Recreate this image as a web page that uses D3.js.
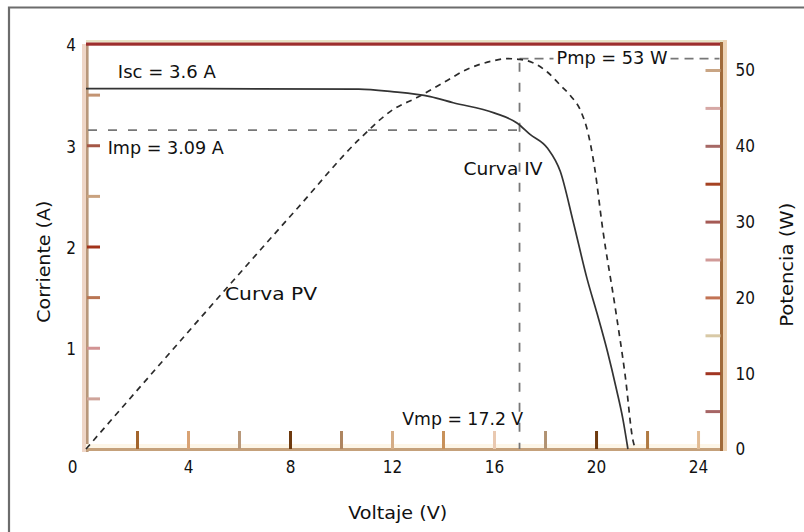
<!DOCTYPE html>
<html><head><meta charset="utf-8">
<script src="https://cdn.jsdelivr.net/npm/d3@7"></script>
<style>
html,body{margin:0;padding:0;background:#fff;}
svg{display:block;}
text{font-family:"DejaVu Sans Condensed","Liberation Sans Narrow","Arial Narrow","Liberation Sans",Arial,sans-serif;font-stretch:condensed;fill:#111;}
</style></head><body>
<svg id="chart" width="804" height="532"></svg>
<script>
// ---------- data ----------
const voltageLabels=[0,4,8,12,16,20,24];
const voltageMinorTicks=[2,4,6,8,10,12,14,16,18,20,22,24];
const currentLabels=[1,2,3,4];
const currentMinorTicks=[0.5,1,1.5,2,2.5,3,3.5];
const powerLabels=[0,10,20,30,40,50];
const powerMinorTicks=[5,10,15,20,25,30,35,40,45,50];

const ivVoltage=[0,10.7,12.0,13.5,14.4,16.0,16.9,17.4,18.1,18.6,19.1,19.65,20.05,20.45,20.8,21.05,21.25];
const ivCurrent=[3.56,3.555,3.53,3.48,3.42,3.32,3.22,3.11,2.97,2.74,2.25,1.68,1.33,0.96,0.59,0.30,0];

const pvVoltage=[0,8.3,10.7,12.05,13.0,14.0,14.95,15.95,16.5,17.0,17.5,18.1,18.6,19.0,19.4,19.7,19.95,20.25,20.75,21.15,21.45,21.55];
const pvPower=[0,31.8,40.8,44.8,46.4,48.3,50.1,51.2,51.5,51.4,51.0,49.7,48.0,46.6,44.6,41.5,37.0,29.3,18.7,9.5,1.1,0];

const impLineCurrent=3.15;   // dashed Imp line as drawn
const vmpLineVoltage=17.0;   // dashed Vmp line as drawn
const pmpLinePower=51.5;     // dashed Pmp line as drawn

const annotationTexts=["Isc = 3.6 A","Imp = 3.09 A","Pmp = 53 W","Curva IV","Curva PV","Vmp = 17.2 V"];
const xTitle="Voltaje (V)", yLeftTitle="Corriente (A)", yRightTitle="Potencia (W)";

// ---------- layout ----------
const svg=d3.select("#chart");
const x=d3.scaleLinear().domain([0,24.92]).range([86,721.5]);
const yI=d3.scaleLinear().domain([0,4]).range([449,44]);
const yP=d3.scaleLinear().domain([0,53.43]).range([449,44]);

// outer frame
svg.append("path").attr("d","M9,532V7.5H804").attr("fill","none").attr("stroke","#6c6c6c").attr("stroke-width",2.2);

// plot border (scan-like coloured edges)
const x0=x(0), x1=x.range()[1], yb=yI(0), yt=yI(4);
svg.append("rect").attr("x",x0-4).attr("y",yt).attr("width",4).attr("height",yb-yt+3).attr("fill","#efd6c7");
svg.append("rect").attr("x",x0).attr("y",yt).attr("width",2.6).attr("height",yb-yt+3).attr("fill","#b8977a");
svg.append("rect").attr("x",x0).attr("y",yb-5).attr("width",x1-x0).attr("height",4).attr("fill","#fdf6e8");
svg.append("rect").attr("x",x0).attr("y",yb-1).attr("width",x1-x0+1).attr("height",3).attr("fill","#c5a17b");
svg.append("rect").attr("x",x0).attr("y",yt-4).attr("width",x1-x0+4).attr("height",2.6).attr("fill","#e7e3c6");
svg.append("rect").attr("x",x0).attr("y",yt-1.5).attr("width",x1-x0).attr("height",3.2).attr("fill","#9d2f2e");
svg.append("rect").attr("x",x1-1.5).attr("y",yt-2).attr("width",3).attr("height",yb-yt+4).attr("fill","#a06a3a");
svg.append("rect").attr("x",x1+1.5).attr("y",yt-4).attr("width",4).attr("height",yb-yt+6).attr("fill","#edd3b5");

// tick colours (scan artefacts)
const bottomTickColors=["#a3652c","#d9a273","#b8987a","#6e3a0e","#ae8560","#d5ad86","#c8915a","#e9c9b1","#b19272","#6e3a0e","#b07a42","#e2bc94"];
const leftTickColors=["#cfa49a","#d29393","#b97553","#a2331a","#c9a27f","#a45746","#c39473"];
const rightTickColors=["#a66565","#a13522","#d8c9a6","#c27354","#d19a98","#a55a55","#a54222","#a66865","#d6a8a5","#c9a584"];

// bottom minor ticks
const gb=svg.append("g").attr("transform",`translate(0,${yb})`)
  .call(d3.axisBottom(x).tickValues(voltageMinorTicks).tickSize(-18).tickFormat(""));
gb.select(".domain").remove();
gb.selectAll(".tick line").attr("stroke",(d,i)=>bottomTickColors[i%bottomTickColors.length]).attr("stroke-width",3);

// bottom labels
const gbl=svg.append("g").attr("transform",`translate(0,${yb})`)
  .call(d3.axisBottom(x).tickValues(voltageLabels).tickSize(0).tickPadding(12).tickFormat(d3.format("d")));
gbl.select(".domain").remove();
gbl.selectAll("text").attr("font-size",17).attr("fill","#111").attr("font-family",null)
  .attr("dx",d=>d===0?-14:0);

// left ticks (inward)
const gl=svg.append("g").attr("transform",`translate(${x0+1},0)`)
  .call(d3.axisRight(yI).tickValues(currentMinorTicks).tickSize(13).tickFormat(""));
gl.select(".domain").remove();
gl.selectAll(".tick line").attr("stroke",(d,i)=>leftTickColors[i%leftTickColors.length]).attr("stroke-width",3);
const gll=svg.append("g").attr("transform",`translate(${x0},0)`)
  .call(d3.axisLeft(yI).tickValues(currentLabels).tickSize(0).tickPadding(10).tickFormat(d3.format("d")));
gll.select(".domain").remove();
gll.selectAll("text").attr("font-size",17).attr("fill","#111").attr("font-family",null).attr("dy","0.4em");

// right ticks (inward)
const gr=svg.append("g").attr("transform",`translate(${x1-1},0)`)
  .call(d3.axisLeft(yP).tickValues(powerMinorTicks).tickSize(15).tickFormat(""));
gr.select(".domain").remove();
gr.selectAll(".tick line").attr("stroke",(d,i)=>rightTickColors[i%rightTickColors.length]).attr("stroke-width",3);
const grl=svg.append("g").attr("transform",`translate(${x1},0)`)
  .call(d3.axisRight(yP).tickValues(powerLabels).tickSize(0).tickPadding(14).tickFormat(d3.format("d")));
grl.select(".domain").remove();
grl.selectAll("text").attr("font-size",17).attr("fill","#111").attr("font-family",null).attr("dy","0.35em");

// axis titles
svg.append("text").attr("x",(x0+x1)/2-6).attr("y",519).attr("text-anchor","middle")
  .attr("font-size",17).attr("textLength",99).attr("lengthAdjust","spacingAndGlyphs").text(xTitle);
svg.append("text").attr("transform",`translate(50,${yI(1.85)}) rotate(-90)`).attr("text-anchor","middle")
  .attr("font-size",17).attr("textLength",122).attr("lengthAdjust","spacingAndGlyphs").text(yLeftTitle);
svg.append("text").attr("transform",`translate(793,${yI(1.82)}) rotate(-90)`).attr("text-anchor","middle")
  .attr("font-size",17).attr("textLength",124).attr("lengthAdjust","spacingAndGlyphs").text(yRightTitle);

// dashed reference lines
const refStyle=s=>s.attr("stroke","#777").attr("stroke-width",1.8).attr("stroke-dasharray","9,11").attr("fill","none");
svg.append("line").attr("x1",x0+2).attr("x2",x(vmpLineVoltage)).attr("y1",yI(impLineCurrent)).attr("y2",yI(impLineCurrent)).call(refStyle);
svg.append("line").attr("x1",x(vmpLineVoltage)).attr("x2",x(vmpLineVoltage)).attr("y1",yP(pmpLinePower)+4).attr("y2",yb).call(refStyle);
svg.append("line").attr("x1",x(vmpLineVoltage)).attr("x2",x1-2).attr("y1",yP(pmpLinePower)).attr("y2",yP(pmpLinePower))
  .attr("stroke","#777").attr("stroke-width",1.8).attr("stroke-dasharray","9,6");

// curves
const ivLine=d3.line().x(i=>x(ivVoltage[i])).y(i=>yI(ivCurrent[i])).curve(d3.curveMonotoneX);
const pvLine=d3.line().x(i=>x(pvVoltage[i])).y(i=>yP(pvPower[i])).curve(d3.curveMonotoneX);
svg.append("path").attr("d",pvLine(d3.range(pvVoltage.length))).attr("fill","none")
  .attr("stroke","#2a2a2a").attr("stroke-width",1.7).attr("stroke-dasharray","6,5");
svg.append("path").attr("d",ivLine(d3.range(ivVoltage.length))).attr("fill","none")
  .attr("stroke","#333").attr("stroke-width",1.7);

// annotations
const ann=[
  {t:annotationTexts[0],v:1.25,y:yI(3.66),w:98},
  {t:annotationTexts[1],v:0.85,y:yI(2.91),w:116},
  {t:annotationTexts[2],v:18.45,y:yP(50.8),w:111,bg:true},
  {t:annotationTexts[3],v:14.8,y:yI(2.71),w:79},
  {t:annotationTexts[4],v:5.45,y:yI(1.47),w:92},
  {t:annotationTexts[5],v:12.4,y:yI(0.24),w:121}
];
ann.forEach(a=>{
  if(a.bg){svg.append("rect").attr("x",x(a.v)-3).attr("y",a.y-15).attr("width",a.w+6).attr("height",18).attr("fill","#fff");}
  svg.append("text").attr("x",x(a.v)).attr("y",a.y).attr("font-size",17)
    .attr("textLength",a.w).attr("lengthAdjust","spacingAndGlyphs").text(a.t);
});
</script></body></html>
